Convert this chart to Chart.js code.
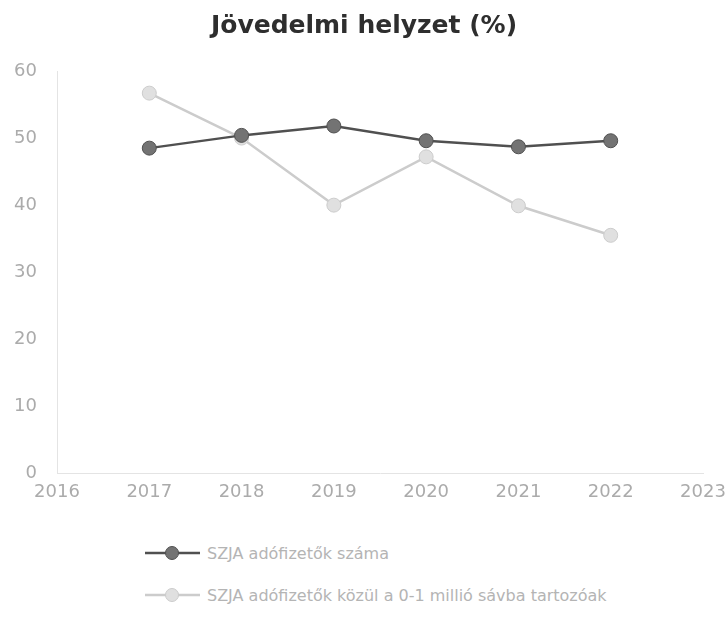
<!DOCTYPE html>
<html>
<head>
<meta charset="utf-8">
<script src="https://cdn.jsdelivr.net/npm/chart.js@4/dist/chart.umd.min.js"></script>
<style>
  html, body { margin: 0; padding: 0; background: #ffffff; }
  #wrap { position: relative; width: 728px; height: 617px; }
  #box { position: absolute; left: 0; top: 0; width: 728px; height: 517px; }
  #legend { position: absolute; left: 145px; top: 541px; font-family: "DejaVu Sans", sans-serif; font-size: 16px; color: #b4b4b4; }
  .row { display: flex; align-items: center; height: 24px; margin-bottom: 18px; white-space: nowrap; }
  .row svg { margin-right: 7px; }
</style>
</head>
<body>
<div id="wrap">
  <div id="box"><canvas id="c"></canvas></div>
  <div id="legend"></div>
</div>
<script>
const titleText = 'Jövedelmi helyzet (%)';
const years = ['2016', '2017', '2018', '2019', '2020', '2021', '2022', '2023'];
const dataYears = ['2017', '2018', '2019', '2020', '2021', '2022'];
const seriesNames = ['SZJA adófizetők száma', 'SZJA adófizetők közül a 0-1 millió sávba tartozóak'];
const taxpayers = [48.5, 50.4, 51.8, 49.6, 48.7, 49.6];
const lowBand = [56.7, 50.0, 40.0, 47.2, 39.9, 35.5];
const yTicks = [0, 10, 20, 30, 40, 50, 60];

const lineColors = ['#505050', '#cccccc'];
const pointFills = ['#737373', '#e0e0e0'];

function pts(vals) { return dataYears.map((y, i) => ({ x: y, y: vals[i] })); }

const datasets = [taxpayers, lowBand].map((vals, i) => ({
  label: seriesNames[i],
  data: pts(vals),
  borderColor: lineColors[i],
  backgroundColor: pointFills[i],
  pointBackgroundColor: pointFills[i],
  pointBorderColor: lineColors[i],
  pointBorderWidth: 1,
  pointRadius: 7,
  borderWidth: 2.5,
  tension: 0,
  order: i === 0 ? 0 : 1
}));

const chart = new Chart(document.getElementById('c'), {
  type: 'line',
  data: { labels: years, datasets },
  options: {
    responsive: true,
    maintainAspectRatio: false,
    animation: false,
    layout: { padding: { left: 0, right: 0, top: 0, bottom: 6 } },
    plugins: {
      legend: { display: false },
      tooltip: { enabled: false },
      title: {
        display: true,
        text: titleText,
        color: '#2e2e2e',
        font: { family: 'DejaVu Sans', size: 25, weight: 'bold' },
        padding: { top: 11, bottom: 30 }
      }
    },
    scales: {
      x: {
        type: 'category',
        offset: false,
        grid: { display: false, drawTicks: false },
        border: { display: true, color: '#e4e4e4', width: 1 },
        ticks: { color: '#ababab', font: { family: 'DejaVu Sans', size: 18 }, padding: 8, maxRotation: 0 },
        afterFit: (s) => { s.paddingRight = 25; s.paddingLeft = 25; }
      },
      y: {
        min: 0, max: 60,
        afterBuildTicks: (s) => { s.ticks = yTicks.map(v => ({ value: v })); },
        afterFit: (s) => { s.width = 57; },
        grid: { display: false, drawTicks: false },
        border: { display: true, color: '#e4e4e4', width: 1 },
        ticks: { color: '#ababab', font: { family: 'DejaVu Sans', size: 18 }, padding: 20 }
      }
    }
  }
});

const legend = document.getElementById('legend');
chart.data.datasets.forEach((ds) => {
  const row = document.createElement('div');
  row.className = 'row';
  const ns = 'http://www.w3.org/2000/svg';
  const svg = document.createElementNS(ns, 'svg');
  svg.setAttribute('width', '55'); svg.setAttribute('height', '16');
  const ln = document.createElementNS(ns, 'line');
  ln.setAttribute('x1', '0'); ln.setAttribute('y1', '8'); ln.setAttribute('x2', '55'); ln.setAttribute('y2', '8');
  ln.setAttribute('stroke', ds.borderColor); ln.setAttribute('stroke-width', '2.5');
  const c = document.createElementNS(ns, 'circle');
  c.setAttribute('cx', '27'); c.setAttribute('cy', '8'); c.setAttribute('r', '6.5');
  c.setAttribute('fill', ds.pointBackgroundColor); c.setAttribute('stroke', ds.borderColor);
  svg.appendChild(ln); svg.appendChild(c);
  const span = document.createElement('span');
  span.textContent = ds.label;
  row.appendChild(svg); row.appendChild(span);
  legend.appendChild(row);
});
</script>
</body>
</html>
